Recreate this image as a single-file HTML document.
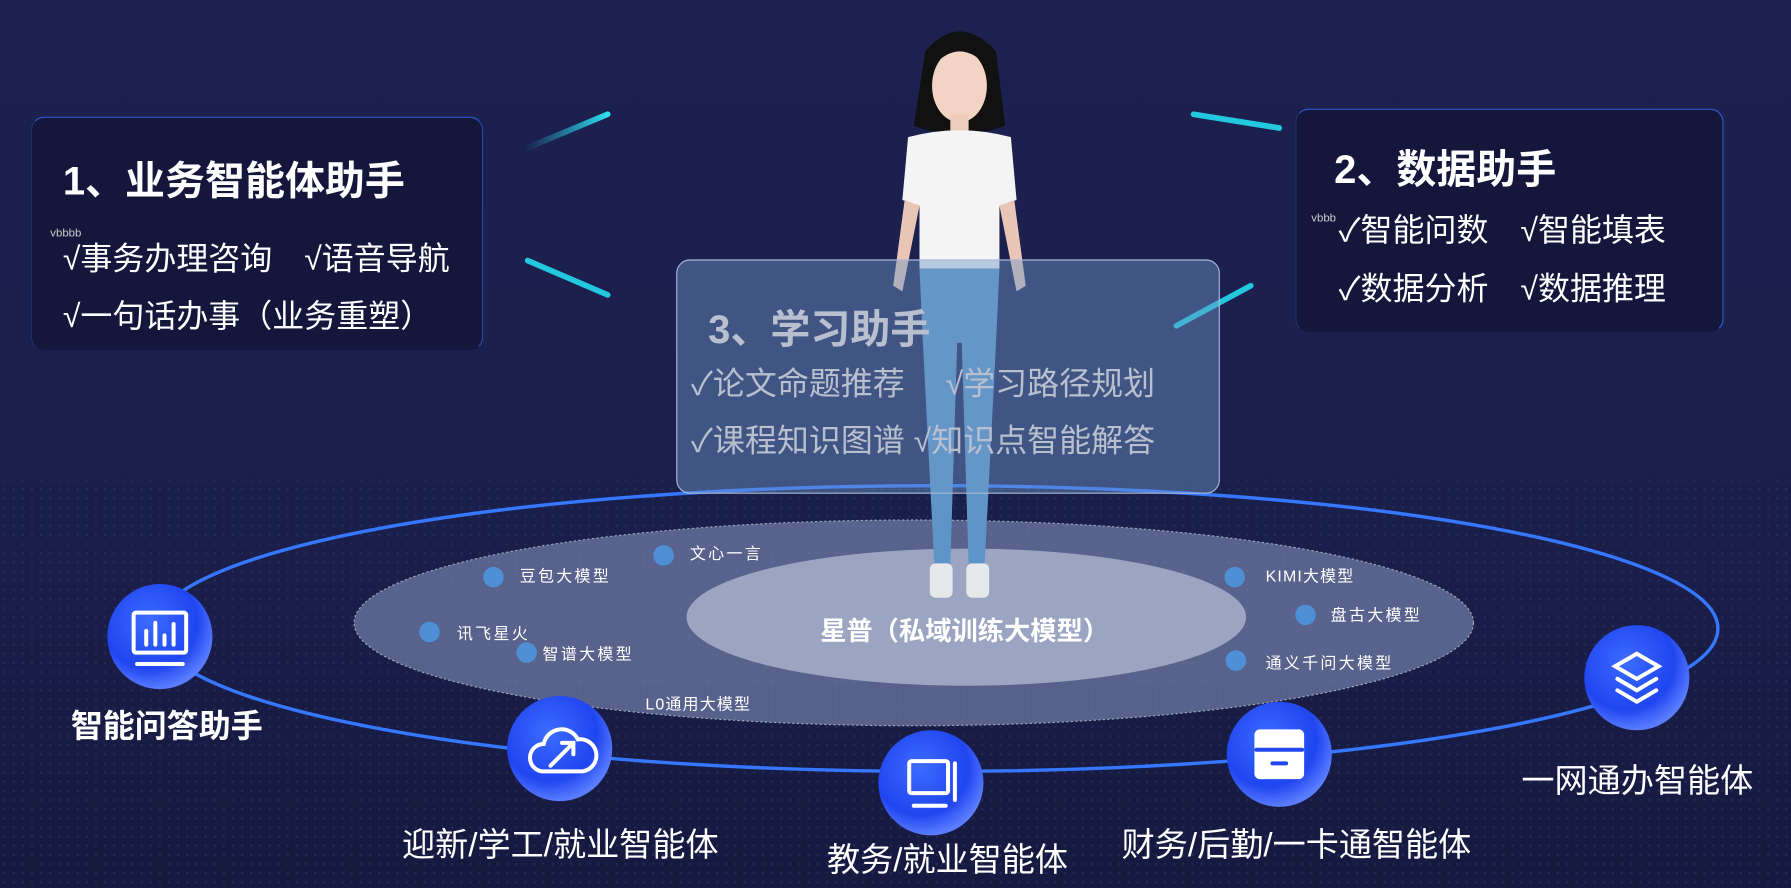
<!DOCTYPE html>
<html><head><meta charset="utf-8"><style>
html,body{margin:0;padding:0;width:1791px;height:888px;overflow:hidden;background:#1a1d48;}
#s{position:absolute;left:0;top:0;width:1568px;height:777px;transform:scale(1.14222,1.14286);transform-origin:0 0;
background:linear-gradient(180deg,#1d2150 0%,#1b1f4c 50%,#161a40 100%);font-family:"Liberation Sans","Noto Sans CJK SC",sans-serif;overflow:hidden}
.t{position:absolute;white-space:nowrap;color:#fff}
.box{position:absolute;border-radius:12px;box-sizing:border-box}
</style></head><body><div id="s">
<svg width="1568" height="777" style="position:absolute;left:0;top:0">
<defs>
<radialGradient id="ic" cx="40%" cy="35%" r="65%"><stop offset="0" stop-color="#3d6bff"/><stop offset="0.7" stop-color="#1f45f0"/><stop offset="1" stop-color="#5a7cff"/></radialGradient>
<pattern id="dots" width="8" height="8" patternUnits="userSpaceOnUse"><circle cx="4" cy="4" r="1" fill="#2b3a6a"/></pattern>
<linearGradient id="dash" x1="0" x2="1"><stop offset="0" stop-color="#20c8e0" stop-opacity="0"/><stop offset="1" stop-color="#30e0f0"/></linearGradient>
</defs>
<rect x="0" y="420" width="1568" height="357" fill="url(#dots)" opacity="0.6"/>
<line x1="460" y1="130" x2="532" y2="100" stroke="url(#dash)" stroke-width="5" stroke-linecap="round"/>
<line x1="462" y1="228" x2="532" y2="258" stroke="#22c8dd" stroke-width="5" stroke-linecap="round"/>
<line x1="1045" y1="100" x2="1120" y2="112" stroke="#22c8dd" stroke-width="5" stroke-linecap="round"/>
<line x1="1030" y1="285" x2="1095" y2="250" stroke="#22c8dd" stroke-width="5" stroke-linecap="round"/>
<ellipse cx="820" cy="550" rx="684" ry="125" fill="none" stroke="#3577ff" stroke-width="3"/>
<ellipse cx="800" cy="545" rx="490" ry="90" fill="#8c9bc4" fill-opacity="0.55" stroke="#9ab" stroke-dasharray="2 2"/>
<ellipse cx="846" cy="540" rx="245" ry="60" fill="#c8d2e6" fill-opacity="0.6"/>
<g fill="#4e8fd6">
<circle cx="432" cy="505" r="9"/><circle cx="581" cy="486" r="9"/><circle cx="376" cy="553" r="9"/><circle cx="461" cy="571" r="9"/>
<circle cx="1081" cy="505" r="9"/><circle cx="1143" cy="538" r="9"/><circle cx="1082" cy="578" r="9"/></g>
<g>
<path d="M810 45 Q840 10 872 45 L880 110 Q840 125 800 110 Z" fill="#111"/>
<ellipse cx="840" cy="75" rx="24" ry="32" fill="#f2d3c4"/>
<path d="M815 60 Q840 30 866 60 L868 45 Q840 20 812 45Z" fill="#111"/>
<rect x="832" y="100" width="16" height="20" fill="#efcdbd"/>
<path d="M795 120 Q840 108 885 120 L890 175 L875 180 L875 235 L805 235 L805 180 L790 175Z" fill="#f4f4f4"/>
<path d="M792 175 L782 250 L790 255 L805 180Z M888 175 L898 250 L890 255 L875 180Z" fill="#e9c5b5"/>
<path d="M805 235 L875 235 L872 300 L862 495 L848 495 L842 300 L838 300 L832 495 L818 495 L808 300Z" fill="#5e95c8"/>
<rect x="814" y="493" width="20" height="30" rx="5" fill="#e6e8ea"/><rect x="846" y="493" width="20" height="30" rx="5" fill="#e6e8ea"/>
</g>
<g stroke="#fff" stroke-width="3.5" fill="none" stroke-linecap="round">
<circle cx="140" cy="557" r="46" fill="url(#ic)" stroke="none"/>
<rect x="117" y="536" width="46" height="35" rx="2"/><line x1="120" y1="581" x2="160" y2="581"/>
<line x1="128" y1="552" x2="128" y2="564"/><line x1="136" y1="545" x2="136" y2="564"/><line x1="144" y1="556" x2="144" y2="564"/><line x1="152" y1="546" x2="152" y2="564"/>
<circle cx="490" cy="655" r="46" fill="url(#ic)" stroke="none"/>
<path d="M476 675 a12 12 0 0 1 0-24 a16 16 0 0 1 30-4 a12 12 0 0 1 4 28Z"/><path d="M482 670 L502 650 M492 650 L502 650 L502 660"/>
<circle cx="815" cy="685" r="46" fill="url(#ic)" stroke="none"/>
<rect x="796" y="666" width="34" height="28" rx="2"/><line x1="800" y1="705" x2="828" y2="705"/><line x1="836" y1="668" x2="836" y2="700"/>
<circle cx="1120" cy="660" r="46" fill="url(#ic)" stroke="none"/>
<rect x="1100" y="640" width="40" height="40" rx="3" fill="#fff"/><line x1="1100" y1="656" x2="1140" y2="656" stroke="#2347f0"/><line x1="1114" y1="668" x2="1126" y2="668" stroke="#2347f0"/>
<circle cx="1433" cy="593" r="46" fill="url(#ic)" stroke="none"/>
<path d="M1433 572 L1452 583 L1433 594 L1414 583Z M1416 594 L1433 604 L1450 594 M1416 604 L1433 614 L1450 604"/>
</g>
</svg>

<div class="box" style="left:27px;top:102px;width:396px;height:205px;background:#14163c;border:1.5px solid #2e5fd8;border-bottom-color:#1a1d48;border-left-color:#22306a;border-right-color:#2a4aa8"></div>
<div class="t" style="left:55px;top:130px;font-size:35px;font-weight:bold">1、业务智能体助手</div>
<div class="t" style="left:44px;top:199px;font-size:10px;color:#ccc">vbbbb</div>
<div class="t" style="left:55px;top:205px;font-size:28px">√事务办理咨询　√语音导航</div>
<div class="t" style="left:55px;top:255px;font-size:28px">√一句话办事（业务重塑）</div>

<div class="box" style="left:1134px;top:95px;width:375px;height:196px;background:#14163c;border:1.5px solid #2e5fd8;border-bottom-color:#1a1d48;border-left-color:#22306a"></div>
<div class="t" style="left:1168px;top:120px;font-size:35px;font-weight:bold">2、数据助手</div>
<div class="t" style="left:1148px;top:186px;font-size:10px;color:#ccc">vbbb</div>
<div class="t" style="left:1172px;top:180px;font-size:28px">✓智能问数　√智能填表</div>
<div class="t" style="left:1172px;top:231px;font-size:28px">✓数据分析　√数据推理</div>

<div class="box" style="left:592px;top:227px;width:476px;height:205px;background:rgba(110,150,200,0.45);border:1.5px solid #a8b8d8"></div>
<div class="t" style="left:620px;top:260px;font-size:35px;font-weight:bold;color:#b8c0d0">3、学习助手</div>
<div class="t" style="left:605px;top:314px;font-size:28px;color:#b8c0d0">✓论文命题推荐　 √学习路径规划</div>
<div class="t" style="left:605px;top:364px;font-size:28px;color:#b8c0d0">✓课程知识图谱 √知识点智能解答</div>

<div class="t" style="left:718px;top:533px;font-size:23px;font-weight:bold">星普（私域训练大模型）</div>
<div class="t" style="left:455px;top:494px;font-size:14px;letter-spacing:2px">豆包大模型</div>
<div class="t" style="left:604px;top:474px;font-size:14px;letter-spacing:2px">文心一言</div>
<div class="t" style="left:400px;top:544px;font-size:14px;letter-spacing:2px">讯飞星火</div>
<div class="t" style="left:475px;top:562px;font-size:14px;letter-spacing:2px">智谱大模型</div>
<div class="t" style="left:565px;top:606px;font-size:14px;letter-spacing:1px">L0通用大模型</div>
<div class="t" style="left:1108px;top:494px;font-size:14px;letter-spacing:1px">KIMI大模型</div>
<div class="t" style="left:1165px;top:528px;font-size:14px;letter-spacing:2px">盘古大模型</div>
<div class="t" style="left:1108px;top:570px;font-size:14px;letter-spacing:2px">通义千问大模型</div>

<div class="t" style="left:62px;top:614px;font-size:28px;font-weight:bold">智能问答助手</div>
<div class="t" style="left:352px;top:716px;font-size:29px">迎新/学工/就业智能体</div>
<div class="t" style="left:724px;top:729px;font-size:29px">教务/就业智能体</div>
<div class="t" style="left:982px;top:716px;font-size:29px">财务/后勤/一卡通智能体</div>
<div class="t" style="left:1332px;top:660px;font-size:29px">一网通办智能体</div>
</div></body></html>
